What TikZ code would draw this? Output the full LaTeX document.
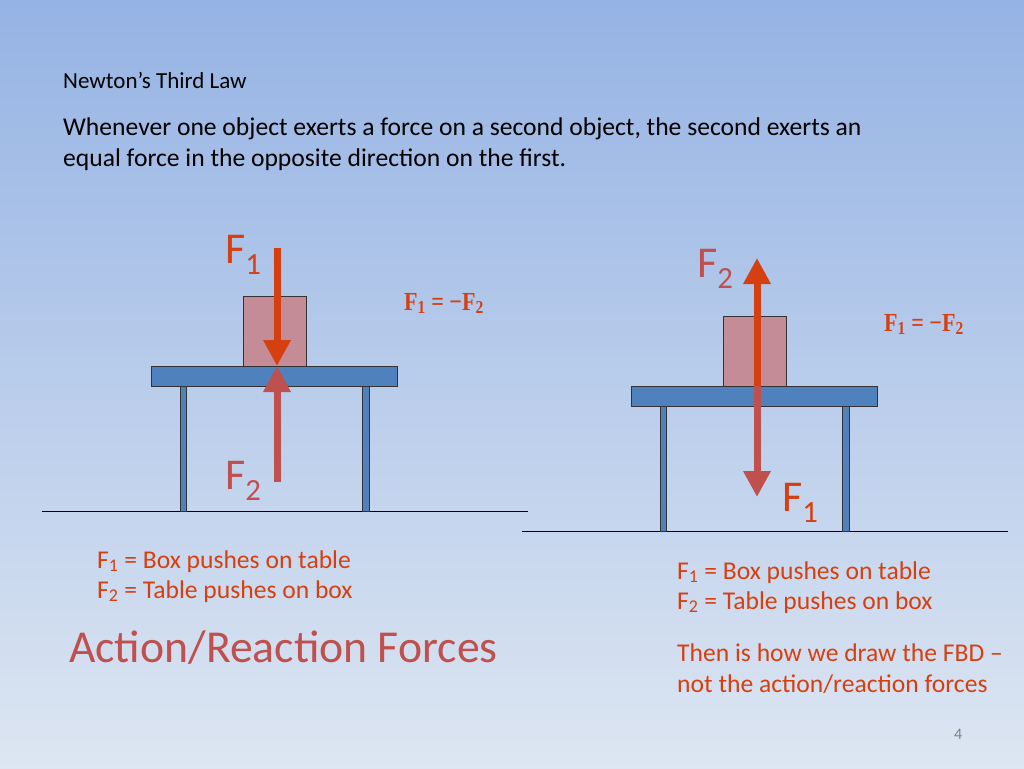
\documentclass[tikz,border=0pt]{standalone}
\usepackage{fontspec}
\setmainfont{Carlito}
\newfontfamily\eqfont{Liberation Serif}
\usetikzlibrary{arrows.meta}
\definecolor{push}{RGB}{214,64,16}
\definecolor{rosy}{RGB}{192,80,77}
\definecolor{tablecol}{RGB}{79,129,189}
\definecolor{boxcol}{RGB}{196,140,150}
\tikzstyle{txt} = [anchor=base west, inner sep=0pt, font=\fontsize{25.6}{30}\selectfont]
\tikzstyle{lbl} = [anchor=base west, inner sep=0pt, font=\fontsize{44}{48}\selectfont]
\tikzstyle{eq} = [anchor=base west, inner sep=0pt, push, xscale=0.85, font=\eqfont\bfseries\fontsize{26}{28}\selectfont]
\tikzstyle{force} = [line width=7pt, -{Triangle[length=26pt,width=26pt]}]
\tikzstyle{top} = [draw=black!80, fill=tablecol, line width=0.8pt]

\begin{document}
\begin{tikzpicture}[x=1pt, y=-1pt]
  % background
  \shade[top color={rgb,255:red,149;green,179;blue,228}, bottom color={rgb,255:red,221;green,230;blue,242}] (0,0) rectangle (1024,768);
  \useasboundingbox (0,0) rectangle (1024,768);

  % header
  \node [txt, font=\fontsize{23}{26}\selectfont] (title) at (63,88) {Newton’s Third Law};
  \node [txt] (law1) at (63,135) {Whenever one object exerts a force on a second object, the second exerts an};
  \node [txt] (law2) at (63,166) {equal force in the opposite direction on the first.};

  % left: action/reaction
  \draw (42,511) -- (528,511);
  \draw [top] (180,386) rectangle (186,511);
  \draw [top] (362,386) rectangle (369,511);
  \draw [top] (151,366) rectangle (397,386);
  \draw [draw=black!80, fill=boxcol] (243,296) rectangle (306,366);
  \coordinate (lc) at (277,366);
  \draw [force, push] (277,248) -- (lc);
  \draw [force, rosy] (277,482) -- (lc);
  \node [lbl, push] (lF1) at (225,263) {F\textsubscript{1}};
  \node [lbl, rosy] (lF2) at (225,489) {F\textsubscript{2}};
  \node [eq] (leq) at (404,310) {F\textsubscript{1} = −F\textsubscript{2}};

  \node [txt, push] (ld1) at (97,568) {F\textsubscript{1} = Box pushes on table};
  \node [txt, push] (ld2) at (97,598) {F\textsubscript{2} = Table pushes on box};
  \node [anchor=base west, inner sep=0pt, rosy, font=\fontsize{45.7}{50}\selectfont] (act) at (69,662) {Action/Reaction Forces};

  % right: free body
  \draw (522,531) -- (1008,531);
  \draw [top] (660,406) rectangle (666,531);
  \draw [top] (842,406) rectangle (849,531);
  \draw [top] (631,386) rectangle (877,406);
  \draw [draw=black!80, fill=boxcol] (723,316) rectangle (786,386);
  \coordinate (rc) at (757,386);
  \draw [force, push] (rc) -- (757,258);
  \draw [force, rosy] (rc) -- (757,497);
  \node [lbl, rosy] (rF2) at (697,277) {F\textsubscript{2}};
  \node [lbl, push] (rF1) at (782,511) {F\textsubscript{1}};
  \node [eq] (req) at (884,331) {F\textsubscript{1} = −F\textsubscript{2}};

  \node [txt, push] (rd1) at (677,579) {F\textsubscript{1} = Box pushes on table};
  \node [txt, push] (rd2) at (677,609) {F\textsubscript{2} = Table pushes on box};
  \node [txt, push] (rd3) at (677,661) {Then is how we draw the FBD –};
  \node [txt, push] (rd4) at (677,692) {not the action/reaction forces};

  \node [anchor=base west, inner sep=0pt, gray, font=\fontsize{16}{18}\selectfont] (pg) at (954,739) {4};
\end{tikzpicture}
\end{document}
